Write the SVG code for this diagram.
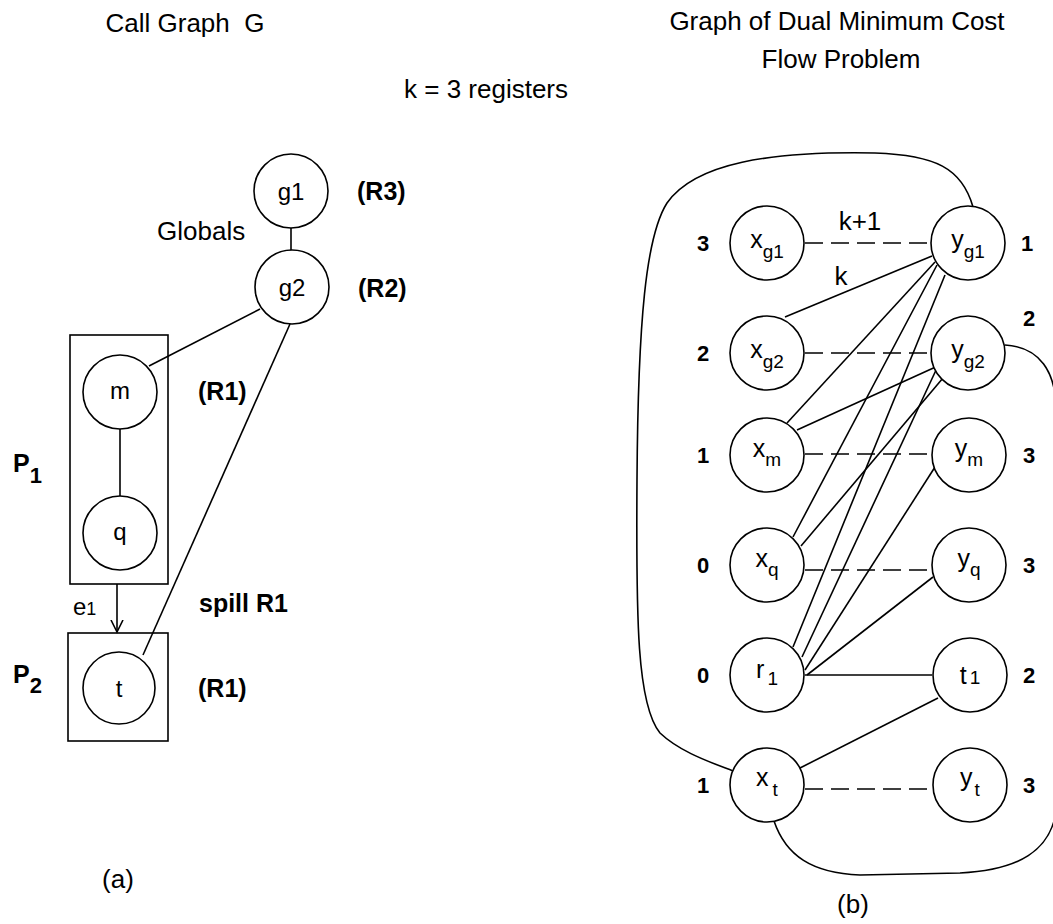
<svg xmlns="http://www.w3.org/2000/svg" width="1053" height="924" viewBox="0 0 1053 924">
<style>
text{font-family:"Liberation Sans",Arial,sans-serif;fill:#000}
.t{font-size:26px}
.b{font-size:25px;font-weight:bold}
.n{font-size:22px;font-weight:bold}
.nl{font-size:24px}
.rl{font-size:25px}
.sub{font-size:19px}
circle,rect.box{fill:#fff;stroke:#000;stroke-width:1.6}
.e line,.e path{stroke:#000;stroke-width:1.6;fill:none}
.e .d{stroke-dasharray:18 8}
</style>
<defs>
<marker id="ah" markerWidth="14" markerHeight="22" refX="12" refY="11" orient="auto" markerUnits="userSpaceOnUse">
<path d="M0,5 L12,11 L0,17" fill="none" stroke="#000" stroke-width="1.6"/>
</marker>
</defs>
<rect width="1053" height="924" fill="#fff"/>
<!-- titles -->
<text class="t" x="185" y="32" text-anchor="middle">Call Graph&#160; G</text>
<text class="t" x="837" y="30" text-anchor="middle">Graph of Dual Minimum Cost</text>
<text class="t" x="841" y="68" text-anchor="middle">Flow Problem</text>
<text class="t" x="404" y="98">k = 3 registers</text>
<text class="t" x="118" y="888" text-anchor="middle">(a)</text>
<text class="t" x="853" y="913" text-anchor="middle">(b)</text>
<!-- left: boxes -->
<g id="P1"><rect class="box" x="70" y="335" width="98" height="249"/>
<text class="b" x="13" y="472">P<tspan dy="11" font-size="22">1</tspan></text></g>
<g id="P2"><rect class="box" x="68" y="633" width="100" height="108"/>
<text class="b" x="13" y="683">P<tspan dy="10" font-size="22">2</tspan></text></g>
<!-- left connectors -->
<g class="e" id="edges-a">
<line x1="291" y1="228" x2="291" y2="251"/>
<line x1="260" y1="309" x2="149" y2="366"/>
<line x1="290" y1="324" x2="143" y2="655"/>
<line x1="120" y1="429" x2="120" y2="496"/>
<line x1="117" y1="584" x2="117" y2="632" marker-end="url(#ah)"/>
</g>
<text class="nl" x="73" y="615">e<tspan font-size="18">1</tspan></text>
<text class="t" x="157" y="240">Globals</text>
<text class="b" x="199" y="612">spill R1</text>
<!-- left nodes -->
<g id="g1"><circle cx="291" cy="191" r="37"/><text class="nl" x="291" y="200" text-anchor="middle">g1</text><text class="b" x="357" y="200">(R3)</text></g>
<g id="g2"><circle cx="292" cy="287" r="37"/><text class="nl" x="292" y="296" text-anchor="middle">g2</text><text class="b" x="358" y="297">(R2)</text></g>
<g id="m"><circle cx="120" cy="392" r="37"/><text class="nl" x="120" y="399" text-anchor="middle">m</text><text class="b" x="198" y="400">(R1)</text></g>
<g id="q"><circle cx="120" cy="533" r="37"/><text class="nl" x="120" y="540" text-anchor="middle">q</text></g>
<g id="t"><circle cx="119" cy="688" r="36"/><text class="nl" x="119" y="697" text-anchor="middle">t</text><text class="b" x="198" y="697">(R1)</text></g>
<!-- right connectors -->
<g class="e" id="edges-b">
<path d="M973,207 C962,168 935,155 875,153 C770,151 695,163 667,203 C646,236 638,320 637,480 C636,620 637,705 660,733 C680,752 710,762 733,771"/>
<path d="M1005,345 C1040,347 1056,372 1056,410 L1056,800"/>
<path d="M774,821 C786,856 812,873 860,875 L960,873 C1020,870 1050,850 1056,812"/>
<line class="d" x1="805" y1="243" x2="932" y2="243"/>
<line class="d" x1="805" y1="353" x2="931" y2="353"/>
<line class="d" x1="805" y1="454" x2="932" y2="454"/>
<line class="d" x1="805" y1="570" x2="932" y2="570"/>
<line class="d" x1="805" y1="789" x2="933" y2="789"/>
<line x1="785" y1="317" x2="932" y2="256"/>
<line x1="787" y1="423" x2="935" y2="262"/>
<line x1="797" y1="430" x2="940" y2="365"/>
<line x1="793" y1="537" x2="937" y2="265"/>
<line x1="801" y1="546" x2="943" y2="378"/>
<line x1="793" y1="647" x2="945" y2="275"/>
<line x1="802" y1="657" x2="937" y2="368"/>
<line x1="805" y1="670" x2="935" y2="467"/>
<line x1="807" y1="675" x2="933" y2="577"/>
<line x1="805" y1="675" x2="932" y2="675"/>
<line x1="800" y1="768" x2="938" y2="698"/>
</g>
<text class="t" x="860" y="230" text-anchor="middle">k+1</text>
<text class="t" x="841" y="285" text-anchor="middle">k</text>
<!-- right nodes -->
<g id="xg1"><circle cx="767" cy="243" r="37"/><text class="rl" x="767" y="248" text-anchor="middle">x<tspan class="sub" dy="10">g1</tspan></text><text class="n" x="703" y="251" text-anchor="middle">3</text></g>
<g id="yg1"><circle cx="968" cy="243" r="37"/><text class="rl" x="968" y="248" text-anchor="middle">y<tspan class="sub" dy="10">g1</tspan></text><text class="n" x="1027" y="251" text-anchor="middle">1</text></g>
<g id="xg2"><circle cx="767" cy="353" r="37"/><text class="rl" x="767" y="358" text-anchor="middle">x<tspan class="sub" dy="10">g2</tspan></text><text class="n" x="703" y="361" text-anchor="middle">2</text></g>
<g id="yg2"><circle cx="968" cy="353" r="37"/><text class="rl" x="968" y="358" text-anchor="middle">y<tspan class="sub" dy="10">g2</tspan></text><text class="n" x="1029" y="326" text-anchor="middle">2</text></g>
<g id="xm"><circle cx="767" cy="455" r="37"/><text class="rl" x="767" y="457" text-anchor="middle">x<tspan class="sub" dy="9">m</tspan></text><text class="n" x="703" y="463" text-anchor="middle">1</text></g>
<g id="ym"><circle cx="969" cy="455" r="37"/><text class="rl" x="969" y="457" text-anchor="middle">y<tspan class="sub" dy="9">m</tspan></text><text class="n" x="1029" y="463" text-anchor="middle">3</text></g>
<g id="xq"><circle cx="767" cy="565" r="37"/><text class="rl" x="767" y="567" text-anchor="middle">x<tspan class="sub" dy="9">q</tspan></text><text class="n" x="703" y="573" text-anchor="middle">0</text></g>
<g id="yq"><circle cx="969" cy="565" r="37"/><text class="rl" x="969" y="567" text-anchor="middle">y<tspan class="sub" dy="9">q</tspan></text><text class="n" x="1029" y="573" text-anchor="middle">3</text></g>
<g id="r1"><circle cx="767" cy="675" r="37"/><text class="rl" x="767" y="678" text-anchor="middle">r<tspan class="sub" dx="3" dy="7">1</tspan></text><text class="n" x="703" y="683" text-anchor="middle">0</text></g>
<g id="t1"><circle cx="970" cy="675" r="37"/><text class="rl" x="970" y="684" text-anchor="middle">t<tspan class="sub" dx="3">1</tspan></text><text class="n" x="1029" y="683" text-anchor="middle">2</text></g>
<g id="xt"><circle cx="767" cy="785" r="37"/><text class="rl" x="767" y="786" text-anchor="middle">x<tspan class="sub" dx="4" dy="10">t</tspan></text><text class="n" x="703" y="793" text-anchor="middle">1</text></g>
<g id="yt"><circle cx="970" cy="785" r="37"/><text class="rl" x="970" y="786" text-anchor="middle">y<tspan class="sub" dx="2" dy="10">t</tspan></text><text class="n" x="1029" y="793" text-anchor="middle">3</text></g>
</svg>
